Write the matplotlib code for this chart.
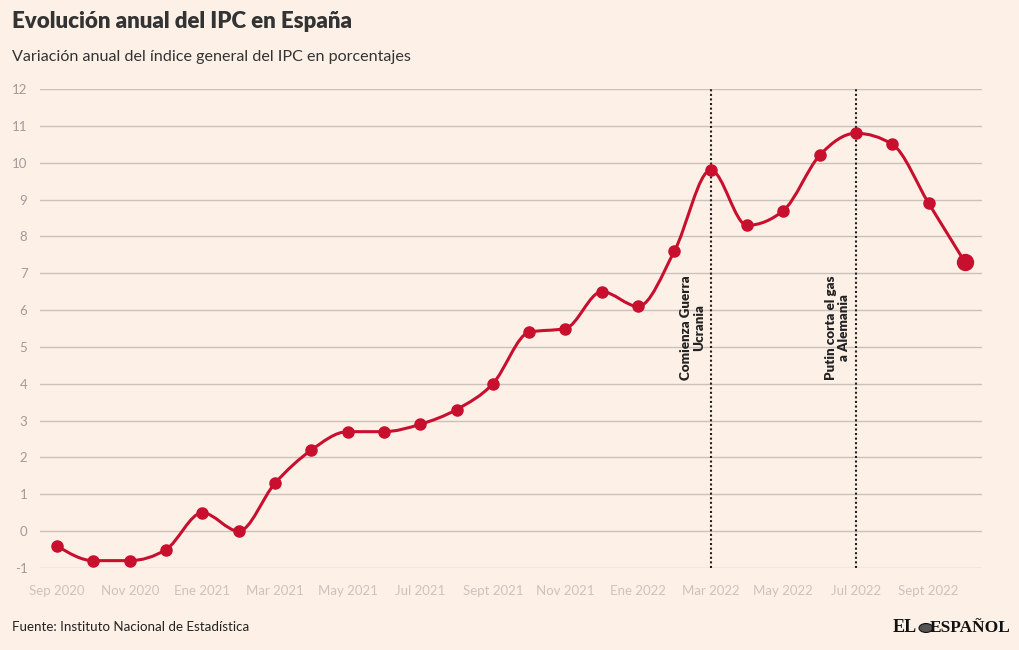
import matplotlib
matplotlib.use("Agg")
import matplotlib.pyplot as plt
import numpy as np
from matplotlib.path import Path
from matplotlib.patches import PathPatch, Circle

months = ["Sep 2020", "Oct 2020", "Nov 2020", "Dic 2020", "Ene 2021", "Feb 2021",
          "Mar 2021", "Abr 2021", "May 2021", "Jun 2021", "Jul 2021", "Ago 2021",
          "Sept 2021", "Oct 2021", "Nov 2021", "Dic 2021", "Ene 2022", "Feb 2022",
          "Mar 2022", "Abr 2022", "May 2022", "Jun 2022", "Jul 2022", "Ago 2022",
          "Sept 2022", "Oct 2022"]
ipc = [-0.4, -0.8, -0.8, -0.5, 0.5, 0.0, 1.3, 2.2, 2.7, 2.7, 2.9, 3.3, 4.0,
       5.4, 5.5, 6.5, 6.1, 7.6, 9.8, 8.3, 8.7, 10.2, 10.8, 10.5, 8.9, 7.3]
tick_labels = ["Sep 2020", "Nov 2020", "Ene 2021", "Mar 2021", "May 2021", "Jul 2021",
               "Sept 2021", "Nov 2021", "Ene 2022", "Mar 2022", "May 2022", "Jul 2022",
               "Sept 2022"]
events = ["Mar 2022", "Jul 2022"]
event_labels = ["Comienza Guerra\nUcrania", "Putin corta el gas\na Alemania"]
yticks = list(range(-1, 13))

BG = "#fdf0e6"
RED = "#c8102e"
FONT = "Lato"

fig = plt.figure(figsize=(10.2, 6.5), dpi=100, facecolor=BG)
ax = fig.add_axes([40/1020, 1-568/650, 942/1020, 479/650])
ax.set_facecolor(BG)

x = np.arange(len(ipc), dtype=float)
y = np.array(ipc, dtype=float)

# monotone cubic (d3 curveMonotoneX style) tangents
s = np.diff(y) / np.diff(x)
t = np.zeros_like(y)
for i in range(1, len(y) - 1):
    s0, s1 = s[i-1], s[i]
    p = (s0 + s1) / 2
    t[i] = (np.sign(s0) + np.sign(s1)) * min(abs(s0), abs(s1), 0.5 * abs(p))
t[0] = (3 * s[0] - t[1]) / 2
t[-1] = (3 * s[-1] - t[-2]) / 2

verts = [(x[0], y[0])]
codes = [Path.MOVETO]
for i in range(len(y) - 1):
    dx = x[i+1] - x[i]
    verts += [(x[i] + dx/3, y[i] + dx*t[i]/3),
              (x[i+1] - dx/3, y[i+1] - dx*t[i+1]/3),
              (x[i+1], y[i+1])]
    codes += [Path.CURVE4] * 3
ax.add_patch(PathPatch(Path(verts, codes), fill=False, edgecolor=RED, lw=2.2,
                       zorder=3, capstyle="round", joinstyle="round"))
ax.plot(x[:-1], y[:-1], "o", color=RED, ms=8, zorder=4)
ax.plot(x[-1:], y[-1:], "o", color=RED, ms=11.5, zorder=4)

ax.set_xlim(-0.47, len(ipc) - 1 + 0.47)
ax.set_ylim(-1, 12)
ax.set_yticks(yticks)
ax.set_yticklabels([str(v) for v in yticks], fontsize=9.5, color="#a39b97", fontfamily=FONT)
tick_pos = [months.index(m) for m in tick_labels]
ax.set_xticks(tick_pos)
ax.set_xticklabels(tick_labels, fontsize=9.5, color="#cdc3bd", fontfamily=FONT)
ax.tick_params(axis="both", length=0)
ax.tick_params(axis="y", pad=9)
ax.tick_params(axis="x", pad=12)
ax.grid(axis="y", color="#c9c1bc", lw=1)
ax.set_axisbelow(True)
for sp in ax.spines.values():
    sp.set_visible(False)

for ev, lab in zip(events, event_labels):
    xi = months.index(ev)
    ax.axvline(xi, color="#222222", lw=1.5, ls=(0, (1, 1.2)), zorder=2)
    ax.annotate(lab, xy=(xi, 4.1), xytext=(-4, 0), textcoords="offset points",
                rotation=90, ha="right", va="bottom", fontsize=9.6,
                fontweight="heavy", color="#222222", fontfamily=FONT,
                multialignment="center", linespacing=1.15)

fig.text(12/1020, 1-22/650, "Evolución anual del IPC en España", fontsize=16,
         fontweight="heavy", color="#333333", fontfamily=FONT, va="center", ha="left")
fig.text(12/1020, 1-57/650, "Variación anual del índice general del IPC en porcentajes",
         fontsize=11.6, color="#333333", fontfamily=FONT, va="center", ha="left")
fig.text(12/1020, 1-627/650, "Fuente: Instituto Nacional de Estadística",
         fontsize=9.6, color="#222222", fontfamily=FONT, va="center", ha="left")

# logo
fig.text(893/1020, 1-628/650, "EL", fontsize=13, fontweight="bold", color="#111111",
         fontfamily="Liberation Serif", va="center", ha="left")
fig.patches.append(Circle((926/1020, 1-628/650), 7/1020, transform=fig.transFigure,
                          facecolor="#555555", edgecolor="#111111", lw=0.8))
fig.text(1010/1020, 1-628/650, "ESPAÑOL", fontsize=12.5, fontweight="bold", color="#111111",
         fontfamily="Liberation Serif", va="center", ha="right")

fig.savefig("out.png", dpi=100, facecolor=BG)
